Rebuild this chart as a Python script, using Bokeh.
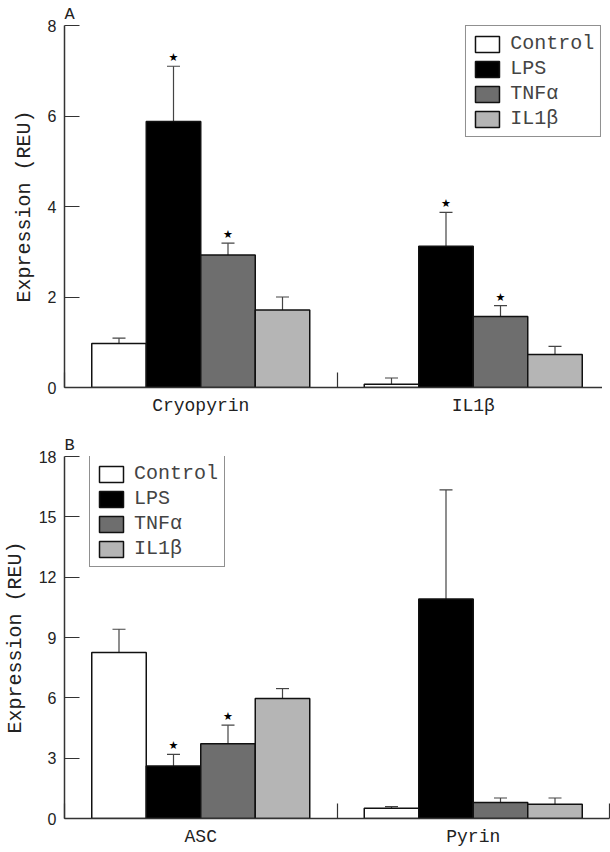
from bokeh.plotting import figure
from bokeh.models import (ColumnDataSource, FixedTicker, Whisker, TeeHead, Legend,
                          LegendItem, Range1d, Title)
from bokeh.layouts import column
from bokeh.embed import file_html
from bokeh.resources import INLINE
from bokeh.core.properties import value

# ---------------- data ----------------
treatments = ["Control", "LPS", "TNF\u03b1", "IL1\u03b2"]
colors = ["#ffffff", "#000000", "#6e6e6e", "#b5b5b5"]

a_genes = ["Cryopyrin", "IL1\u03b2"]
a_means = {
    "Control": [0.97, 0.07],
    "LPS": [5.88, 3.12],
    "TNF\u03b1": [2.93, 1.57],
    "IL1\u03b2": [1.71, 0.73],
}
a_upper = {
    "Control": [1.09, 0.21],
    "LPS": [7.10, 3.87],
    "TNF\u03b1": [3.19, 1.81],
    "IL1\u03b2": [2.00, 0.91],
}
a_sig = {
    "Control": [False, False],
    "LPS": [True, True],
    "TNF\u03b1": [True, True],
    "IL1\u03b2": [False, False],
}
a_yticks = [0, 2, 4, 6, 8]

b_genes = ["ASC", "Pyrin"]
b_means = {
    "Control": [8.26, 0.51],
    "LPS": [2.61, 10.92],
    "TNF\u03b1": [3.72, 0.80],
    "IL1\u03b2": [5.97, 0.71],
}
b_upper = {
    "Control": [9.41, 0.59],
    "LPS": [3.19, 16.34],
    "TNF\u03b1": [4.64, 1.02],
    "IL1\u03b2": [6.46, 1.02],
}
b_sig = {
    "Control": [False, False],
    "LPS": [True, False],
    "TNF\u03b1": [True, False],
    "IL1\u03b2": [False, False],
}
b_yticks = [0, 3, 6, 9, 12, 15, 18]

MONO = "Liberation Mono"
SANS = "Liberation Sans"
AXC = "#333333"
TXT = "#222222"

FRAME_W = 545
FRAME_H = 362
LEG_H = 111


def panel(letter, genes, means, upper, sig, yticks, border_top,
          border_bottom, legend_loc):
    ymax = yticks[-1]
    p = figure(frame_width=FRAME_W, frame_height=FRAME_H, output_backend="svg",
               toolbar_location=None, x_range=Range1d(0, len(genes)),
               y_range=Range1d(0, ymax), min_border_left=55,
               min_border_right=2, min_border_top=border_top,
               min_border_bottom=border_bottom)
    p.outline_line_color = None
    p.grid.visible = False
    p.background_fill_color = None
    p.border_fill_color = None

    t = Title(text=letter, align="left", text_font=MONO,
              text_font_size="17px", text_font_style="normal",
              text_color=TXT, offset=0, standoff=4)
    p.add_layout(t, "above")

    bw = 0.2
    offsets = [-0.3, -0.1, 0.1, 0.3]
    items = []
    for k, tr in enumerate(treatments):
        xs = [i + 0.5 + offsets[k] for i in range(len(genes))]
        src = ColumnDataSource(dict(x=xs, top=means[tr], upper=upper[tr]))
        r = p.vbar(x="x", top="top", width=bw, source=src,
                   fill_color=colors[k], line_color="#111111", line_width=1.5)
        items.append(LegendItem(label=tr, renderers=[r]))
        w = Whisker(source=src, base="x", lower="top", upper="upper",
                    dimension="height", line_color="#444444", line_width=1.2,
                    lower_head=None,
                    upper_head=TeeHead(size=13, line_color="#444444",
                                       line_width=1.2))
        p.add_layout(w)
        sx = [xs[i] for i in range(len(genes)) if sig[tr][i]]
        sy = [upper[tr][i] for i in range(len(genes)) if sig[tr][i]]
        if sx:
            p.text(x=sx, y=sy, text=["\u2605"] * len(sx), text_align="center",
                   text_baseline="bottom", y_offset=-2,
                   text_font=value("DejaVu Sans"), text_font_size="11px",
                   text_color="#000000")

    leg = Legend(items=items, location=legend_loc,
                 label_text_font=MONO,
                 label_text_font_size="20px", glyph_width=30, glyph_height=20,
                 label_height=20, spacing=2, padding=6, margin=0,
                 label_standoff=8, border_line_color="#222222",
                 border_line_width=1, background_fill_alpha=1.0)
    p.add_layout(leg)

    # x axis: labels at group centres, tick marks at group boundaries
    xa = p.xaxis[0]
    xa.ticker = FixedTicker(ticks=[i + 0.5 for i in range(len(genes))],
                            minor_ticks=list(range(len(genes) + 1)))
    xa.major_label_overrides = {i + 0.5: g for i, g in enumerate(genes)}
    xa.major_tick_line_color = None
    xa.minor_tick_in = 15
    xa.minor_tick_out = 0
    xa.minor_tick_line_color = AXC
    xa.minor_tick_line_width = 1.2
    xa.axis_line_color = AXC
    xa.axis_line_width = 1.5
    xa.major_label_text_font = MONO
    xa.major_label_text_font_size = "18px"
    xa.major_label_text_color = TXT
    xa.major_label_standoff = 2

    ya = p.yaxis[0]
    ya.ticker = FixedTicker(ticks=yticks, minor_ticks=[])
    ya.major_tick_in = 15
    ya.major_tick_out = 0
    ya.major_tick_line_color = AXC
    ya.major_tick_line_width = 1.2
    ya.axis_line_color = AXC
    ya.axis_line_width = 1.5
    ya.major_label_text_font = SANS
    ya.major_label_text_font_size = "16px"
    ya.major_label_text_color = TXT
    ya.major_label_standoff = 8
    ya.axis_label = "Expression (REU)"
    ya.axis_label_text_font = MONO
    ya.axis_label_text_font_size = "20px"
    ya.axis_label_text_font_style = "normal"
    ya.axis_label_text_color = TXT
    ya.axis_label_standoff = 9
    return p


pa = panel("A", a_genes, a_means, a_upper, a_sig, a_yticks, 22, 30,
           "top_right")
pb = panel("B", b_genes, b_means, b_upper, b_sig, b_yticks, 38, 24,
           (25, FRAME_H - LEG_H))

layout = column(pa, pb, spacing=0)
open("out.html", "w").write(file_html(layout, INLINE))
